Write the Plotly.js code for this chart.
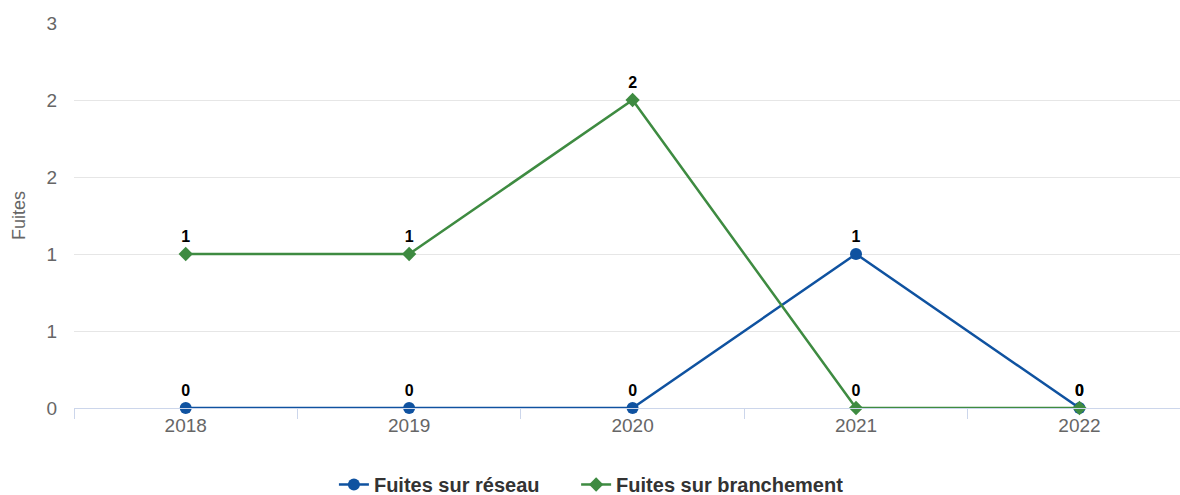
<!DOCTYPE html>
<html><head><meta charset="utf-8">
<script src="https://cdn.plot.ly/plotly-3.0.1.min.js"></script>
<style>html,body{margin:0;padding:0;background:#fff}#chart{width:1180px;height:495px}</style>
</head><body><div id="chart"></div>
<script>
const years = ['2018','2019','2020','2021','2022'];
const reseau = [0, 0, 0, 1, 0];
const branchement = [1, 1, 2, 0, 0];
const yTickVals = [0, 0.5, 1, 1.5, 2, 2.5];
const yTickText = ['0','1','1','2','2','3'];
const nameReseau = 'Fuites sur réseau';
const nameBranchement = 'Fuites sur branchement';

const font = '"Liberation Sans", Arial, sans-serif';
const traces = [
  {x: years, y: reseau, name: nameReseau, type: 'scatter', mode: 'lines+markers+text',
   legend: 'legend',
   line: {color: '#0f52a0', width: 2.5}, marker: {symbol: 'circle', size: 12, color: '#0f52a0'},
   text: reseau.map(String), textposition: 'top center',
   textfont: {family: font, size: 16, color: '#000', weight: 'bold'}, cliponaxis: false},
  {x: years, y: branchement, name: nameBranchement, type: 'scatter', mode: 'lines+markers+text',
   legend: 'legend2',
   line: {color: '#3e8b41', width: 2.5}, marker: {symbol: 'diamond', size: 11, color: '#3e8b41'},
   text: branchement.map(String), textposition: 'top center',
   textfont: {family: font, size: 16, color: '#000', weight: 'bold'}, cliponaxis: false}
];
const legFont = {family: font, size: 20, color: '#333', weight: 'bold'};
const layout = {
  width: 1180, height: 495,
  margin: {l: 74, r: 0, t: 23, b: 87, autoexpand: false},
  paper_bgcolor: '#fff', plot_bgcolor: '#fff',
  font: {family: font, color: '#666'},
  showlegend: true,
  legend: {orientation: 'h', x: 0.235, xanchor: 'left', y: -0.148, yanchor: 'top',
           font: legFont, itemwidth: 30},
  legend2: {orientation: 'h', x: 0.454, xanchor: 'left', y: -0.148, yanchor: 'top',
           font: legFont, itemwidth: 30},
  xaxis: {type: 'category', range: [-0.5, 4.45], showgrid: false, zeroline: false,
          showline: true, linecolor: '#ccd6eb', linewidth: 1, automargin: false,
          ticks: 'outside', tickson: 'boundaries', ticklen: 10, tickcolor: '#ccd6eb',
          tickfont: {family: font, size: 19, color: '#666'}, fixedrange: true},
  yaxis: {range: [0, 2.5], tickvals: yTickVals, ticktext: yTickText, automargin: false,
          showgrid: true, gridcolor: '#e6e6e6', gridwidth: 1, zeroline: false,
          ticks: '', ticklabelstandoff: 16,
          tickfont: {family: font, size: 19, color: '#666'},
          title: {text: 'Fuites', font: {family: font, size: 18, color: '#666'}, standoff: 16}}
};
Plotly.newPlot('chart', traces, layout, {displayModeBar: false, staticPlot: true});
</script></body></html>
